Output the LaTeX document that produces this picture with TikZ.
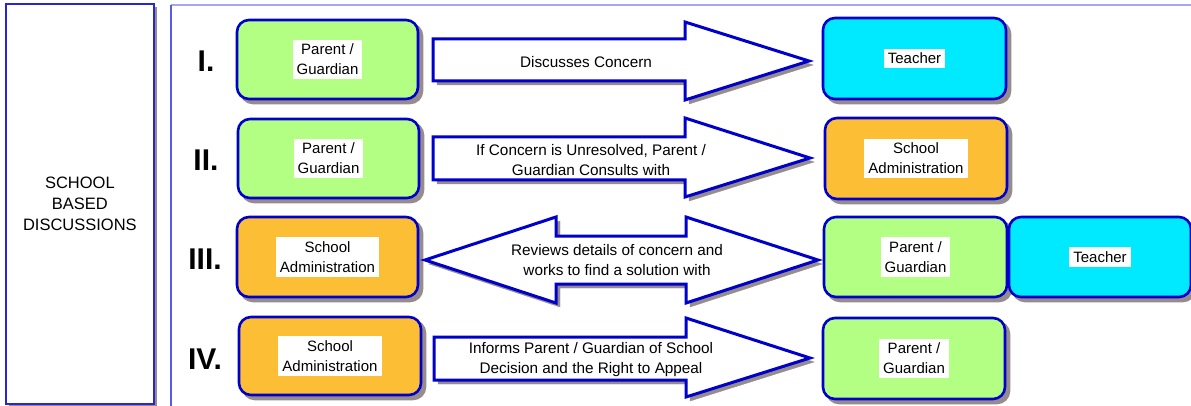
\documentclass[tikz,border=0pt]{standalone}
\usepackage{fontspec}
\setmainfont{Liberation Sans}
\definecolor{bord}{RGB}{0,0,204}
\definecolor{shad}{RGB}{150,140,140}
\definecolor{pgreen}{RGB}{178,255,132}
\definecolor{porange}{RGB}{252,190,52}
\definecolor{pcyan}{RGB}{0,234,255}
\definecolor{panelblue}{RGB}{90,90,230}
\definecolor{panellav}{RGB}{165,165,240}
\tikzset{
  shadowed/.style={preaction={fill=shad, draw=shad, transform canvas={shift={(4pt,-4pt)}}}},
  card/.style={rectangle, rounded corners=12pt, draw=bord, line width=2.6pt, minimum width=180pt, minimum height=80pt, shadowed},
  green card/.style={card, fill=pgreen},
  orange card/.style={card, fill=porange},
  cyan card/.style={card, fill=pcyan},
  label/.style={fill=white, inner xsep=4pt, inner ysep=4pt, align=center, font=\fontsize{15}{20}\selectfont},
  arrowshape/.style={draw=bord, fill=white, line width=3pt, line join=miter, shadowed},
  arrowtext/.style={align=center, font=\fontsize{15.3}{20}\selectfont},
  numeral/.style={font=\fontsize{30}{30}\selectfont\bfseries},
}
\begin{document}
\begin{tikzpicture}[x=1pt,y=-1pt]
\useasboundingbox (0,0) rectangle (1191,406);
% left box
\fill[shad] (9,7) rectangle (157,407);
\node[draw=bord!85!white, line width=1.8pt, fill=white, minimum width=148pt, minimum height=400pt, inner sep=0pt, anchor=north west,
  align=center, font=\fontsize{16.5}{21}\selectfont] (side) at (5,3) {SCHOOL\\BASED\\DISCUSSIONS};
% panel lines
\draw[panellav, line width=1.5pt] (171,5) -- (1191,5);
\draw[panelblue, line width=1.2pt] (171,5) -- (171,406);

% numerals
\node[numeral] (n1) at (206,61) {I.};
\node[numeral] (n2) at (206,160) {II.};
\node[numeral] (n3) at (205,259) {III.};
\node[numeral] (n4) at (205,359) {IV.};

% row I
\node[green card, minimum width=181pt, minimum height=79pt] (a1) at (327.5,59.5) {};
\node[label] (a1t) at (a1) {Parent /\\Guardian};
\node[cyan card, minimum width=183pt, minimum height=81pt] (b1) at (914.5,58.5) {};
\node[label] (b1t) at (b1) {Teacher};
\draw[arrowshape] (433,39) -- (685,39) -- (685,22) -- (809,61) -- (685,100) -- (685,81) -- (433,81) -- cycle;
\node[arrowtext] (t1) at (586,62) {Discusses Concern};

% row II
\node[green card, minimum width=181pt, minimum height=79pt] (a2) at (328.5,158.5) {};
\node[label] (a2t) at (a2) {Parent /\\Guardian};
\node[orange card, minimum width=182pt, minimum height=81pt] (b2) at (916,158.5) {};
\node[label] (b2t) at (b2) {School\\Administration};
\draw[arrowshape] (433,137) -- (685,137) -- (685,118) -- (810,158) -- (685,197) -- (685,180) -- (433,180) -- cycle;
\node[arrowtext] (t2) at (591,160) {If Concern is Unresolved, Parent /\\Guardian Consults with};

% row III
\node[orange card, minimum width=181pt, minimum height=80pt] (a3) at (327.5,257) {};
\node[label] (a3t) at (a3) {School\\Administration};
\node[green card, minimum width=183pt, minimum height=80pt] (b3) at (915.5,257) {};
\node[label] (b3t) at (b3) {Parent /\\Guardian};
\node[cyan card, minimum width=182pt, minimum height=80pt] (c3) at (1100,257) {};
\node[label] (c3t) at (c3) {Teacher};
\draw[arrowshape] (425,260) -- (556,217) -- (556,236) -- (686,236) -- (686,217) -- (818,260) -- (686,303) -- (686,284) -- (556,284) -- (556,303) -- cycle;
\node[arrowtext] (t3) at (617,260) {Reviews details of concern and\\works to find a solution with};

% row IV
\node[orange card, minimum width=182pt, minimum height=78pt] (a4) at (330,356) {};
\node[label] (a4t) at (a4) {School\\Administration};
\node[green card, minimum width=182pt, minimum height=81pt] (b4) at (914,358.5) {};
\node[label] (b4t) at (b4) {Parent /\\Guardian};
\draw[arrowshape] (434,337) -- (686,337) -- (686,318) -- (810,358) -- (686,397) -- (686,380) -- (434,380) -- cycle;
\node[arrowtext] (t4) at (591,360) {Informs Parent / Guardian of School\\Decision and the Right to Appeal};
\end{tikzpicture}
\end{document}
